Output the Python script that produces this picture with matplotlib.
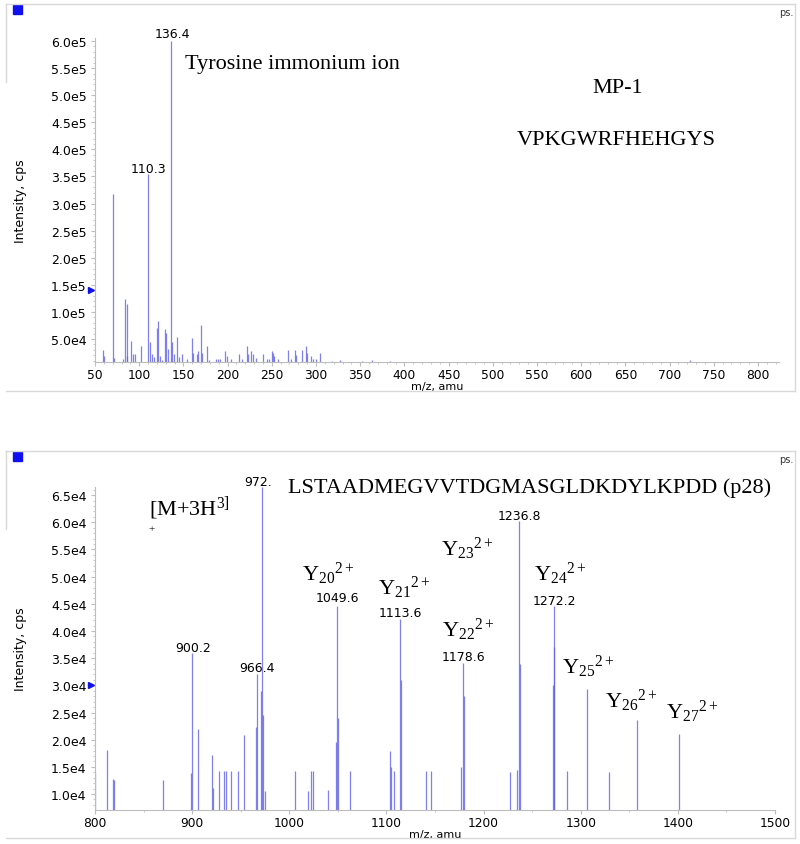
import matplotlib
matplotlib.use("Agg")
import matplotlib.pyplot as plt
from matplotlib.lines import Line2D
from matplotlib.patches import Rectangle
from matplotlib.ticker import MultipleLocator, FuncFormatter
import matplotlib.transforms as mtransforms

plt.rcParams['font.family'] = ['DejaVu Sans']
plt.rcParams['mathtext.fontset'] = 'custom'
plt.rcParams['mathtext.rm'] = 'Liberation Serif'
plt.rcParams['mathtext.it'] = 'Liberation Serif:italic'

# ---------------- data: MP-1 spectrum ----------------
mz_top = [59.4, 60.5, 70.0, 71.5, 82.0, 83.6, 85.8, 86.5, 91.1, 93.4, 95.6, 102.4,
          110.3, 112.6, 114.5, 117.0, 119.7, 120.9, 123.5, 125.7, 129.6, 130.7, 132.2,
          136.4, 137.6, 139.5, 143.2, 144.7, 148.4, 153.6, 159.4, 160.9, 165.0, 166.9,
          169.5, 171.0, 176.7, 179.0, 187.0, 189.0, 191.0, 197.0, 199.0, 203.8, 212.9,
          215.9, 221.6, 223.5, 226.5, 229.1, 231.8, 240.4, 244.2, 246.8, 249.8, 251.7,
          253.0, 257.3, 268.7, 271.3, 275.8, 277.0, 284.6, 288.4, 290.3, 294.0, 297.0,
          300.0, 304.5, 317.6, 327.0, 351.7, 363.0, 383.7, 723.0]
int_top = [3.0e4, 1.8e4, 3.18e5, 1.5e4, 1.3e4, 1.23e5, 1.15e5, 1.8e4, 4.6e4, 2.2e4, 2.2e4, 3.8e4,
           3.55e5, 4.4e4, 2.2e4, 1.6e4, 7.0e4, 8.4e4, 1.9e4, 1.2e4, 6.8e4, 6.1e4, 3.1e4,
           6.0e5, 4.5e4, 2.2e4, 5.3e4, 1.6e4, 2.2e4, 1.3e4, 5.2e4, 2.5e4, 2.2e4, 2.8e4,
           7.5e4, 2.5e4, 3.8e4, 1.2e4, 1.3e4, 1.3e4, 1.3e4, 2.8e4, 1.8e4, 1.4e4, 2.2e4,
           1.3e4, 3.8e4, 2.2e4, 2.8e4, 2.2e4, 1.5e4, 2.2e4, 1.3e4, 1.3e4, 2.8e4, 2.5e4,
           1.8e4, 1.3e4, 2.9e4, 1.3e4, 2.9e4, 2.0e4, 3.0e4, 3.8e4, 2.5e4, 1.9e4, 1.3e4,
           1.3e4, 2.4e4, 9.5e3, 1.1e4, 9.0e3, 1.2e4, 9.0e3, 1.2e4]

# ---------------- data: p28 spectrum ----------------
mz_bot = [800.0, 812.7, 818.5, 819.5, 870.4, 898.5, 900.2, 905.7, 920.8, 921.5, 928.0,
          933.0, 935.0, 940.0, 947.6, 953.8, 965.5, 966.4, 971.0, 972.1, 973.0, 974.5,
          1006.0, 1019.7, 1022.4, 1024.0, 1039.6, 1048.2, 1049.6, 1050.5, 1063.0,
          1104.0, 1104.8, 1108.0, 1113.6, 1114.5, 1140.5, 1146.3, 1176.5, 1178.6, 1179.5,
          1227.7, 1234.5, 1236.8, 1237.6, 1271.8, 1272.2, 1273.0, 1285.4, 1306.4,
          1328.7, 1357.8, 1400.7]
int_bot = [1.41e4, 1.81e4, 1.28e4, 1.25e4, 1.26e4, 1.38e4, 3.59e4, 2.20e4, 1.72e4, 1.12e4, 1.42e4,
           1.42e4, 1.42e4, 1.42e4, 1.42e4, 2.09e4, 2.24e4, 3.20e4, 2.90e4, 6.65e4, 2.45e4, 1.05e4,
           1.42e4, 1.06e4, 1.42e4, 1.42e4, 1.07e4, 1.95e4, 4.46e4, 2.40e4, 1.42e4,
           1.79e4, 1.50e4, 1.42e4, 4.22e4, 3.10e4, 1.42e4, 1.42e4, 1.50e4, 3.42e4, 2.80e4,
           1.41e4, 1.45e4, 6.03e4, 3.40e4, 3.00e4, 4.46e4, 3.70e4, 1.42e4, 2.93e4,
           1.41e4, 2.36e4, 2.10e4]

# peak labels (text, m/z, intensity position)
top_peak_labels = [("136.4", 137.7, 6.13e5), ("110.3", 110.9, 3.65e5)]
bot_peak_labels = [("972.", 967.9, 6.76e4), ("900.2", 900.6, 3.70e4), ("966.4", 966.5, 3.33e4),
                   ("1049.6", 1049.2, 4.61e4), ("1113.6", 1114.4, 4.34e4),
                   ("1178.6", 1179.0, 3.53e4), ("1236.8", 1236.7, 6.13e4),
                   ("1272.2", 1272.9, 4.57e4)]
# fragment ion labels (subscript index, m/z of left edge, baseline intensity)
y_ions = [("20", 1013.2, 4.94e4), ("21", 1091.5, 4.68e4), ("23", 1156.3, 5.40e4),
          ("24", 1252.4, 4.94e4), ("22", 1157.0, 3.92e4), ("25", 1280.6, 3.24e4),
          ("26", 1324.5, 2.61e4), ("27", 1388.0, 2.40e4)]

W, H = 800, 845
fig = plt.figure(figsize=(W / 100, H / 100), dpi=100)
fig.patch.set_facecolor('white')

PEAK = '#6262e8'
AXC = '#bdbdbd'
SERIF = 'Liberation Serif'


def px(x, y):
    return x / W, 1 - y / H


def frame(y0, y1):
    c = '#d9d9d9'
    for (xa, ya, xb, yb) in [(6, y0, 795, y0), (6, y0, 6, y0 + 78), (795, y0, 795, y1), (6, y1, 795, y1)]:
        (fx0, fy0), (fx1, fy1) = px(xa, ya), px(xb, yb)
        fig.add_artist(Line2D([fx0, fx1], [fy0, fy1], color=c, lw=1.0, transform=fig.transFigure))
    fx, fy = px(13, y0 + 10)
    fig.add_artist(Rectangle((fx, fy), 9 / W, 9 / H, color='#1010ee', transform=fig.transFigure))
    tx, ty = px(793, y0 + 8)
    fig.text(tx, ty, "ps.", ha='right', va='center', fontsize=7, color='#333333')


def style_axes(ax, xmaj, xmin, ymaj, ymin, fmt):
    for s in ['top', 'right']:
        ax.spines[s].set_visible(False)
    for s in ['left', 'bottom']:
        ax.spines[s].set_color(AXC)
        ax.spines[s].set_linewidth(0.8)
    ax.xaxis.set_major_locator(MultipleLocator(xmaj))
    ax.xaxis.set_minor_locator(MultipleLocator(xmin))
    ax.yaxis.set_major_locator(MultipleLocator(ymaj))
    ax.yaxis.set_minor_locator(MultipleLocator(ymin))
    ax.yaxis.set_major_formatter(FuncFormatter(fmt))
    ax.tick_params(which='major', direction='out', length=3, color=AXC, labelsize=9,
                   labelcolor='black', pad=3)
    ax.tick_params(axis='x', which='major', pad=1, labelsize=8.8)
    ax.tick_params(which='minor', direction='out', length=1.5, color=AXC)
    ax.set_xlabel("m/z, amu", fontsize=8, labelpad=0)
    ax.set_ylabel("Intensity, cps", fontsize=9, labelpad=17)
    ax.patch.set_alpha(0)


def sci(v, pos):
    if v <= 0:
        return ""
    e = 0
    m = v
    while m >= 10:
        m /= 10
        e += 1
    return f"{m:.1f}e{e}"


# ---------------- top panel ----------------
frame(5, 392)
ax1 = fig.add_axes([95 / W, 1 - 363 / H, (779 - 95) / W, (363 - 39.3) / H])
ax1.vlines(mz_top, 0, int_top, color=PEAK, lw=0.9, alpha=0.8)
ax1.set_xlim(50, 823.8)
ax1.set_ylim(7550, 6.05e5)
style_axes(ax1, 50, 10, 5e4, 1e4, sci)
ax1.set_yticks([5e4 * k for k in range(1, 13)])
for t, x, y in top_peak_labels:
    ax1.text(x, y, t, ha='center', va='center', fontsize=9, clip_on=False)
ax1.text(151.8, 5.58e5, "Tyrosine immonium ion", family=SERIF, fontsize=16, ha='left', va='center')
ax1.text(641.6, 5.15e5, "MP-1", family=SERIF, fontsize=16, ha='center', va='center')
ax1.text(639.4, 4.19e5, "VPKGWRFHEHGYS", family=SERIF, fontsize=16, ha='center', va='center')
tr1 = mtransforms.blended_transform_factory(ax1.transAxes, ax1.transData)
ax1.plot([-0.006], [1.4e5], marker='>', ms=4, color='#1010ee', transform=tr1, clip_on=False)

# ---------------- bottom panel ----------------
frame(452, 839)
ax2 = fig.add_axes([95 / W, 1 - 811 / H, 680 / W, (811 - 488) / H])
ax2.vlines(mz_bot, 0, int_bot, color=PEAK, lw=0.9, alpha=0.8)
ax2.set_xlim(800, 1500)
ax2.set_ylim(7060, 6.65e4)
style_axes(ax2, 100, 50, 5e3, 1e3, sci)
ax2.set_yticks([5e3 * k for k in range(2, 14)])
for t, x, y in bot_peak_labels:
    ax2.text(x, y, t, ha='center', va='center', fontsize=9, clip_on=False)
ax2.text(998.8, 6.65e4, "LSTAADMEGVVTDGMASGLDKDYLKPDD (p28)", family=SERIF, fontsize=16,
         ha='left', va='center', clip_on=False)
ax2.text(856, 6.14e4, r"[M+3H$^{\mathrm{3]}}$", family=SERIF, fontsize=16, ha='left', va='baseline')
ax2.text(858.7, 5.88e4, "+", family=SERIF, fontsize=8, ha='center', va='center')
for sub, x, y in y_ions:
    ax2.text(x, y, r"$\mathrm{Y}_{\mathrm{" + sub + r"}}{}^{\mathrm{2+}}$", fontsize=16,
             ha='left', va='baseline')
tr2 = mtransforms.blended_transform_factory(ax2.transAxes, ax2.transData)
ax2.plot([-0.006], [3.0e4], marker='>', ms=4, color='#1010ee', transform=tr2, clip_on=False)

fig.savefig("out.png", dpi=100, facecolor='white')
